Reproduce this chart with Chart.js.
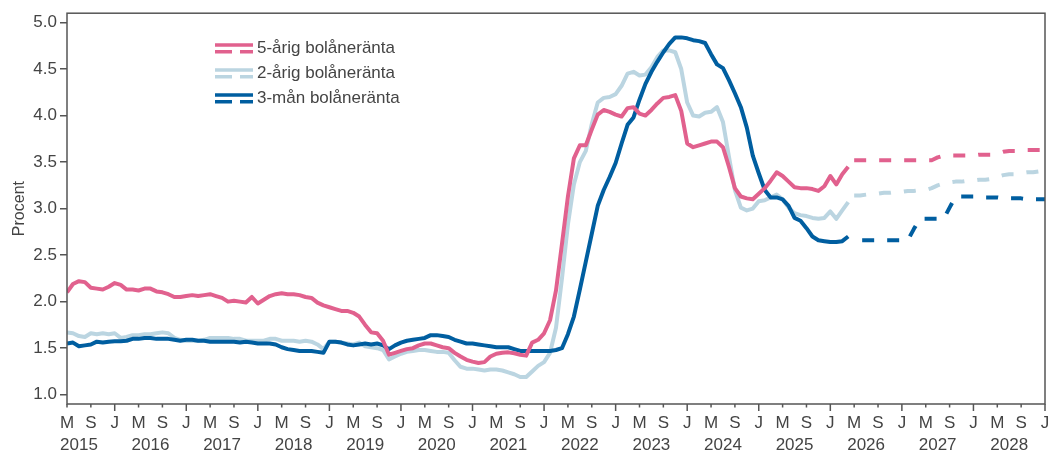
<!DOCTYPE html>
<html lang="sv">
<head>
  <meta charset="UTF-8">
  <title>Bolåneräntor</title>
  <script src="https://cdn.jsdelivr.net/npm/chart.js@4/dist/chart.umd.min.js"></script>
  <style>
    html, body {
      margin: 0;
      padding: 0;
      background-color: #ffffff;
    }
  </style>
</head>
<body>
<canvas id="rantor" width="1050" height="455"></canvas>

<script>
  // månader räknas från januari 2015 (0 = jan 2015)
  const histStart = 4;      // maj 2015
  const prognosStart = 136; // maj 2026
  const xMin = 4;
  const xMax = 168;         // jan 2029

  // utfall, en punkt per månad
  const ranta5ar = [
    2.10, 2.19, 2.22, 2.21, 2.15, 2.14, 2.13, 2.16, 2.20, 2.18,
    2.13, 2.13, 2.12, 2.14, 2.14, 2.11, 2.10, 2.08, 2.05, 2.05,
    2.06, 2.07, 2.06, 2.07, 2.08, 2.06, 2.04, 2.00, 2.01, 2.00,
    1.99, 2.05, 1.98, 2.02, 2.06, 2.08, 2.09, 2.08, 2.08, 2.07,
    2.05, 2.04, 1.99, 1.96, 1.94, 1.92, 1.90, 1.90, 1.88, 1.84,
    1.75, 1.67, 1.66, 1.58, 1.43, 1.45, 1.47, 1.49, 1.50, 1.53,
    1.55, 1.55, 1.53, 1.51, 1.50, 1.45, 1.41, 1.375, 1.355, 1.34,
    1.35, 1.41, 1.44, 1.45, 1.455, 1.445, 1.43, 1.42, 1.56, 1.59,
    1.66, 1.80, 2.12, 2.62, 3.13, 3.54, 3.68, 3.68, 3.85, 4.01,
    4.06, 4.04, 4.01, 3.99, 4.08, 4.09, 4.02, 4.00, 4.06, 4.13,
    4.19, 4.20, 4.22, 4.05, 3.70, 3.66, 3.68, 3.70, 3.72, 3.72,
    3.66, 3.45, 3.22, 3.13, 3.11, 3.10, 3.16, 3.22, 3.30, 3.39,
    3.35, 3.29, 3.23, 3.22, 3.22, 3.21, 3.19, 3.24, 3.35, 3.26,
    3.37, 3.45
  ];
  const ranta2ar = [
    1.67, 1.66, 1.63, 1.62, 1.66, 1.65, 1.66, 1.65, 1.66, 1.61,
    1.62, 1.64, 1.64, 1.65, 1.65, 1.66, 1.67, 1.66, 1.61, 1.59,
    1.58, 1.58, 1.58, 1.59, 1.61, 1.61, 1.61, 1.61, 1.60, 1.60,
    1.58, 1.58, 1.58, 1.58, 1.60, 1.60, 1.58, 1.58, 1.58, 1.57,
    1.58, 1.57, 1.54, 1.49, 1.57, 1.57, 1.56, 1.55, 1.54, 1.56,
    1.52, 1.51, 1.50, 1.48, 1.38, 1.41, 1.44, 1.46, 1.47, 1.48,
    1.48, 1.47, 1.46, 1.46, 1.45, 1.37, 1.30, 1.28, 1.28, 1.27,
    1.26, 1.27, 1.27, 1.26, 1.24, 1.22, 1.19, 1.19, 1.25, 1.31,
    1.35, 1.45, 1.72, 2.25, 2.83, 3.26, 3.50, 3.62, 3.91, 4.14,
    4.19, 4.20, 4.23, 4.32, 4.45, 4.47, 4.43, 4.44, 4.52, 4.63,
    4.70, 4.70, 4.68, 4.50, 4.14, 4.00, 3.99, 4.03, 4.04, 4.09,
    3.93, 3.56, 3.20, 3.01, 2.98, 3.00, 3.08, 3.09, 3.12, 3.15,
    3.10, 3.01, 2.95, 2.93, 2.92, 2.90, 2.89, 2.90, 2.97, 2.89,
    2.98, 3.07
  ];
  const ranta3man = [
    1.55, 1.56, 1.52, 1.53, 1.54, 1.57, 1.56, 1.57, 1.575, 1.575,
    1.58, 1.60, 1.60, 1.61, 1.61, 1.60, 1.60, 1.60, 1.59, 1.58,
    1.59, 1.59, 1.58, 1.58, 1.57, 1.57, 1.57, 1.57, 1.57, 1.56,
    1.57, 1.56, 1.55, 1.55, 1.55, 1.54, 1.51, 1.49, 1.48, 1.47,
    1.47, 1.47, 1.46, 1.45, 1.57, 1.57, 1.56, 1.54, 1.53, 1.54,
    1.55, 1.54, 1.55, 1.53, 1.49, 1.53, 1.56, 1.58, 1.59, 1.60,
    1.61, 1.64, 1.64, 1.63, 1.62, 1.59, 1.57, 1.55, 1.55, 1.54,
    1.53, 1.52, 1.51, 1.51, 1.51, 1.49, 1.47, 1.47, 1.47, 1.47,
    1.47, 1.47, 1.48, 1.50, 1.65, 1.84, 2.13, 2.43, 2.73, 3.03,
    3.20, 3.34, 3.49, 3.70, 3.90, 3.98, 4.17, 4.34, 4.47, 4.58,
    4.68, 4.77, 4.84, 4.84, 4.83, 4.81, 4.80, 4.78, 4.66, 4.55,
    4.51, 4.38, 4.24, 4.09, 3.87, 3.57, 3.38, 3.20, 3.12, 3.12,
    3.10, 3.03, 2.90, 2.87, 2.79, 2.70, 2.66, 2.65, 2.64, 2.64,
    2.65, 2.70
  ];

  // prognos, en punkt per månad
  const prog5ar = [
    3.52, 3.52, 3.52, 3.52, 3.52, 3.52, 3.52, 3.52, 3.52, 3.52,
    3.52, 3.52, 3.52, 3.52, 3.55, 3.57, 3.57, 3.57, 3.57, 3.57,
    3.57, 3.58, 3.58, 3.58, 3.59, 3.61, 3.62, 3.62, 3.62, 3.63,
    3.63, 3.63, 3.63
  ];
  const prog2ar = [
    3.14, 3.14, 3.15, 3.16, 3.16, 3.17, 3.17, 3.18, 3.18, 3.19,
    3.19, 3.20, 3.20, 3.22, 3.25, 3.27, 3.28, 3.29, 3.29, 3.30,
    3.30, 3.31, 3.31, 3.32, 3.34, 3.36, 3.37, 3.37, 3.38, 3.39,
    3.39, 3.40, 3.40
  ];
  const prog3man = [
    2.66, 2.66, 2.66, 2.66, 2.66, 2.66, 2.66, 2.66, 2.66, 2.66,
    2.78, 2.89, 2.89, 2.89, 2.89, 2.89, 3.01, 3.13, 3.13, 3.13,
    3.13, 3.12, 3.12, 3.12, 3.12, 3.11, 3.11, 3.11, 3.11, 3.10,
    3.10, 3.10, 3.10
  ];

  const serieNamn = ['5-årig bolåneränta', '2-årig bolåneränta', '3-mån bolåneränta'];
  const manadBokstav = ['J', 'M', 'S'];  // jan, maj, sep
  const arEtiketter = [2015, 2016, 2017, 2018, 2019, 2020, 2021, 2022, 2023, 2024, 2025, 2026, 2027, 2028];
  const yTicks = [1.0, 1.5, 2.0, 2.5, 3.0, 3.5, 4.0, 4.5, 5.0];

  const rosa = 'rgb(225, 97, 142)';
  const ljusbla = 'rgb(187, 213, 225)';
  const morkbla = 'rgb(0, 94, 160)';
  const farger = [rosa, ljusbla, morkbla];
  const textFarg = '#444444';
  const axelFarg = '#555555';
  const typsnitt = '"Liberation Sans", Arial, Helvetica, sans-serif';
  const textStorlek = 17;

  function punkter(varden, start) {
    return varden.map((v, i) => ({x: start + i, y: v}));
  }

  const manadTicks = [];
  for (let m = xMin; m <= xMax; m += 4) manadTicks.push(m);

  function linje(varden, start, farg, streckad, ordning, offset) {
    return {
      data: punkter(varden, start),
      borderColor: farg,
      backgroundColor: farg,
      borderWidth: 4,
      borderDash: streckad ? [12, 13] : [],
      borderDashOffset: offset || 0,
      borderJoinStyle: 'round',
      pointRadius: 0,
      tension: 0,
      fill: false,
      order: ordning
    };
  }

  // x-axlarna får inte ta extra plats för etiketterna i kanterna
  function xHojd(h) {
    return s => {
      s.height = h;
      s.paddingLeft = 0;
      s.paddingRight = 0;
    };
  }

  // ram runt diagrammet och månadsstreck på x-axeln
  const ram = {
    id: 'ram',
    afterDraw(chart) {
      const ctx = chart.ctx;
      const a = chart.chartArea;
      const x = chart.scales.x;
      ctx.save();
      ctx.strokeStyle = axelFarg;
      ctx.lineWidth = 1.5;
      ctx.strokeRect(a.left, a.top, a.right - a.left, a.bottom - a.top);
      x.ticks.forEach(t => {
        const px = x.getPixelForValue(t.value);
        const len = t.value % 12 === 0 ? 7 : 3.5;
        ctx.beginPath();
        ctx.moveTo(px, a.bottom);
        ctx.lineTo(px, a.bottom + len);
        ctx.stroke();
      });
      ctx.restore();
    }
  };

  // teckenförklaring: hel linje = utfall, streckad = prognos
  const forklaring = {
    id: 'forklaring',
    afterDatasetsDraw(chart) {
      const ctx = chart.ctx;
      ctx.save();
      serieNamn.forEach((namn, i) => {
        const y = 45 + i * 25;
        ctx.strokeStyle = farger[i];
        ctx.lineWidth = 3.5;
        ctx.setLineDash([]);
        ctx.beginPath();
        ctx.moveTo(215, y);
        ctx.lineTo(253, y);
        ctx.stroke();
        ctx.setLineDash([17, 8]);
        ctx.beginPath();
        ctx.moveTo(215, y + 6.7);
        ctx.lineTo(253, y + 6.7);
        ctx.stroke();
        ctx.setLineDash([]);
        ctx.fillStyle = textFarg;
        ctx.font = textStorlek + 'px ' + typsnitt;
        ctx.textBaseline = 'middle';
        ctx.textAlign = 'left';
        ctx.fillText(namn, 257, y + 3.5);
      });
      ctx.restore();
    }
  };

  new Chart(document.getElementById('rantor'), {
    type: 'line',
    data: {
      datasets: [
        linje(ranta5ar, histStart, rosa, false, 1),
        linje(ranta2ar, histStart, ljusbla, false, 3),
        linje(ranta3man, histStart, morkbla, false, 2),
        linje(prog5ar, prognosStart, rosa, true, 1),
        linje(prog2ar, prognosStart, ljusbla, true, 3),
        linje(prog3man, prognosStart, morkbla, true, 2, 17)
      ]
    },
    options: {
      responsive: false,
      devicePixelRatio: 1,
      animation: false,
      layout: {padding: {top: 10, right: 5, left: 0, bottom: 0}},
      plugins: {
        legend: {display: false},
        tooltip: {enabled: false}
      },
      scales: {
        x: {
          type: 'linear',
          position: 'bottom',
          weight: 0,
          min: xMin,
          max: xMax,
          afterBuildTicks: s => { s.ticks = manadTicks.map(v => ({value: v})); },
          afterFit: xHojd(30),
          grid: {display: false, drawTicks: false},
          border: {display: false},
          ticks: {
            autoSkip: false,
            maxRotation: 0,
            minRotation: 0,
            padding: 9,
            color: textFarg,
            font: {family: typsnitt, size: textStorlek},
            callback: v => manadBokstav[(v % 12) / 4]
          }
        },
        x2: {
          type: 'linear',
          position: 'bottom',
          weight: 1,
          min: xMin,
          max: xMax,
          afterBuildTicks: s => { s.ticks = arEtiketter.map(a => ({value: (a - 2015) * 12 + 6})); },
          afterFit: xHojd(21),
          grid: {display: false, drawTicks: false},
          border: {display: false},
          ticks: {
            autoSkip: false,
            maxRotation: 0,
            minRotation: 0,
            padding: 1,
            color: textFarg,
            font: {family: typsnitt, size: textStorlek},
            callback: (v, i) => String(arEtiketter[i])
          }
        },
        y: {
          min: 0.9,
          max: 5.1,
          afterBuildTicks: s => { s.ticks = yTicks.map(v => ({value: v})); },
          afterFit: s => { s.width = 67; },
          grid: {
            drawOnChartArea: false,
            drawTicks: true,
            tickLength: 7,
            color: axelFarg,
            lineWidth: 1.5
          },
          border: {display: false},
          title: {
            display: true,
            text: 'Procent',
            color: textFarg,
            font: {family: typsnitt, size: 16},
            padding: {top: 10, bottom: 0}
          },
          ticks: {
            padding: 3,
            color: textFarg,
            font: {family: typsnitt, size: textStorlek},
            callback: v => v.toFixed(1)
          }
        }
      }
    },
    plugins: [ram, forklaring]
  });
</script>
</body>
</html>
